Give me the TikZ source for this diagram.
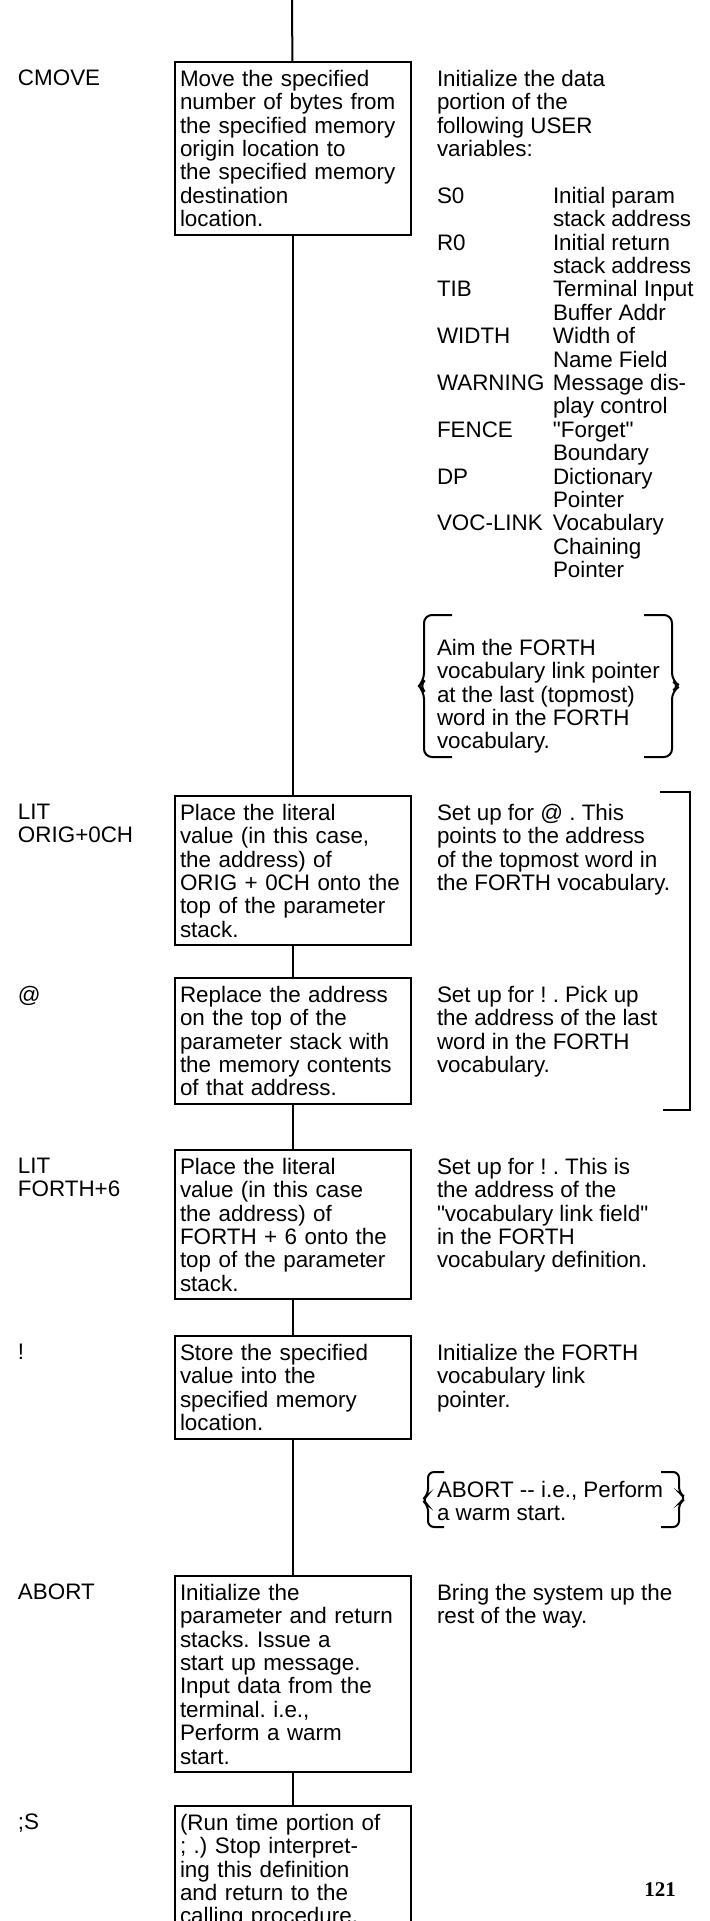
\documentclass[tikz,border=0pt]{standalone}
\usepackage{fontspec}
\setmainfont{Liberation Sans}[Ligatures=TeXOff]
\newfontfamily\pagefont{Liberation Serif}
\usepackage{tikz}
\usetikzlibrary{positioning}
\frenchspacing
\newcommand{\txtsize}{\fontsize{11.2pt}{11.7pt}\selectfont}
\newcommand{\vname}[1]{\makebox[58pt][l]{#1}}

\begin{document}
\begin{tikzpicture}[x=0.5pt, y=-0.5pt, line width=1pt,
  wordbox/.style={draw, anchor=north west, text width=113pt, inner xsep=2.5pt, inner ysep=4pt, align=left, font=\txtsize},
  note/.style={anchor=north west, inner sep=0pt, align=left, font=\txtsize}]
  \useasboundingbox (0,0) rectangle (710,1921);

  % word boxes down the thread
  \coordinate (entry) at (292,0);
  \node[wordbox] (cmove) at (174,61) {Move the specified\\number of bytes from\\the specified memory\\origin location to\\the specified memory\\destination\\location.};
  \node[wordbox] (litorig) at (174,795) {Place the literal\\value (in this case,\\the address) of\\ORIG + 0CH onto the\\top of the parameter\\stack.};
  \node[wordbox] (fetch) at (174,977) {Replace the address\\on the top of the\\parameter stack with\\the memory contents\\of that address.};
  \node[wordbox] (litforth) at (174,1149) {Place the literal\\value (in this case\\the address) of\\FORTH + 6 onto the\\top of the parameter\\stack.};
  \node[wordbox] (store) at (174,1335) {Store the specified\\value into the\\specified memory\\location.};
  \node[wordbox] (abort) at (174,1575) {Initialize the\\parameter and return\\stacks. Issue a\\start up message.\\Input data from the\\terminal. i.e.,\\Perform a warm\\start.};
  \node[wordbox] (semis) at (174,1805) {(Run time portion of\\; .) Stop interpret-\\ing this definition\\and return to the\\calling procedure.};

  \draw (entry) -- (cmove);
  \draw (cmove) -- (litorig);
  \draw (litorig) -- (fetch);
  \draw (fetch) -- (litforth);
  \draw (litforth) -- (store);
  \draw (store) -- (abort);
  \draw (abort) -- (semis);

  % word names
  \node[note] (cmove-name) at (17,69) {CMOVE};
  \node[note] (litorig-name) at (17,803) {LIT\\ORIG+0CH};
  \node[note] (fetch-name) at (17,985) {@};
  \node[note] (litforth-name) at (17,1157) {LIT\\FORTH+6};
  \node[note] (store-name) at (17,1343) {!};
  \node[note] (abort-name) at (17,1583) {ABORT};
  \node[note] (semis-name) at (17,1813) {;S};

  % comments
  \node[note] (cmove-note) at (436,69) {Initialize the data\\portion of the\\following USER\\variables:\\[11.7pt]
    \vname{S0}Initial param\\\vname{}stack address\\
    \vname{R0}Initial return\\\vname{}stack address\\
    \vname{TIB}Terminal Input\\\vname{}Buffer Addr\\
    \vname{WIDTH}Width of\\\vname{}Name Field\\
    \vname{WARNING}Message dis-\\\vname{}play control\\
    \vname{FENCE}"Forget"\\\vname{}Boundary\\
    \vname{DP}Dictionary\\\vname{}Pointer\\
    \vname{VOC-LINK}Vocabulary\\\vname{}Chaining\\\vname{}Pointer};
  \node[note] (aim-note) at (436,638) {Aim the FORTH\\vocabulary link pointer\\at the last (topmost)\\word in the FORTH\\vocabulary.};
  \node[note] (litorig-note) at (436,803) {Set up for @ . This\\points to the address\\of the topmost word in\\the FORTH vocabulary.};
  \node[note] (fetch-note) at (436,985) {Set up for ! . Pick up\\the address of the last\\word in the FORTH\\vocabulary.};
  \node[note] (litforth-note) at (436,1157) {Set up for ! . This is\\the address of the\\"vocabulary link field"\\in the FORTH\\vocabulary definition.};
  \node[note] (store-note) at (436,1343) {Initialize the FORTH\\vocabulary link\\pointer.};
  \node[note] (warm-note) at (436,1480) {ABORT -- i.e., Perform\\a warm start.};
  \node[note] (abort-note) at (436,1583) {Bring the system up the\\rest of the way.};

  % braces
  \draw[rounded corners=4pt] (452,615) -- (424,615) -- (424,681) -- (419,686) -- (424,691) -- (424,757) -- (452,757);
  \draw[rounded corners=4pt] (644,615) -- (672,615) -- (672,681) -- (680,686) -- (672,691) -- (672,757) -- (644,757);
  \draw (660,792) -- (690,792) -- (690,1110) -- (663,1110);
  \draw[rounded corners=3pt] (444,1472) -- (428,1472) -- (428,1495) -- (422,1500) -- (428,1505) -- (428,1527) -- (444,1527);
  \draw[rounded corners=3pt] (661,1472) -- (679,1472) -- (679,1493) -- (686,1498) -- (679,1503) -- (679,1527) -- (661,1527);

  \node[font={\pagefont\bfseries\fontsize{10.5pt}{12pt}\selectfont}] (pageno) at (660,1890) {121};
\end{tikzpicture}
\end{document}
